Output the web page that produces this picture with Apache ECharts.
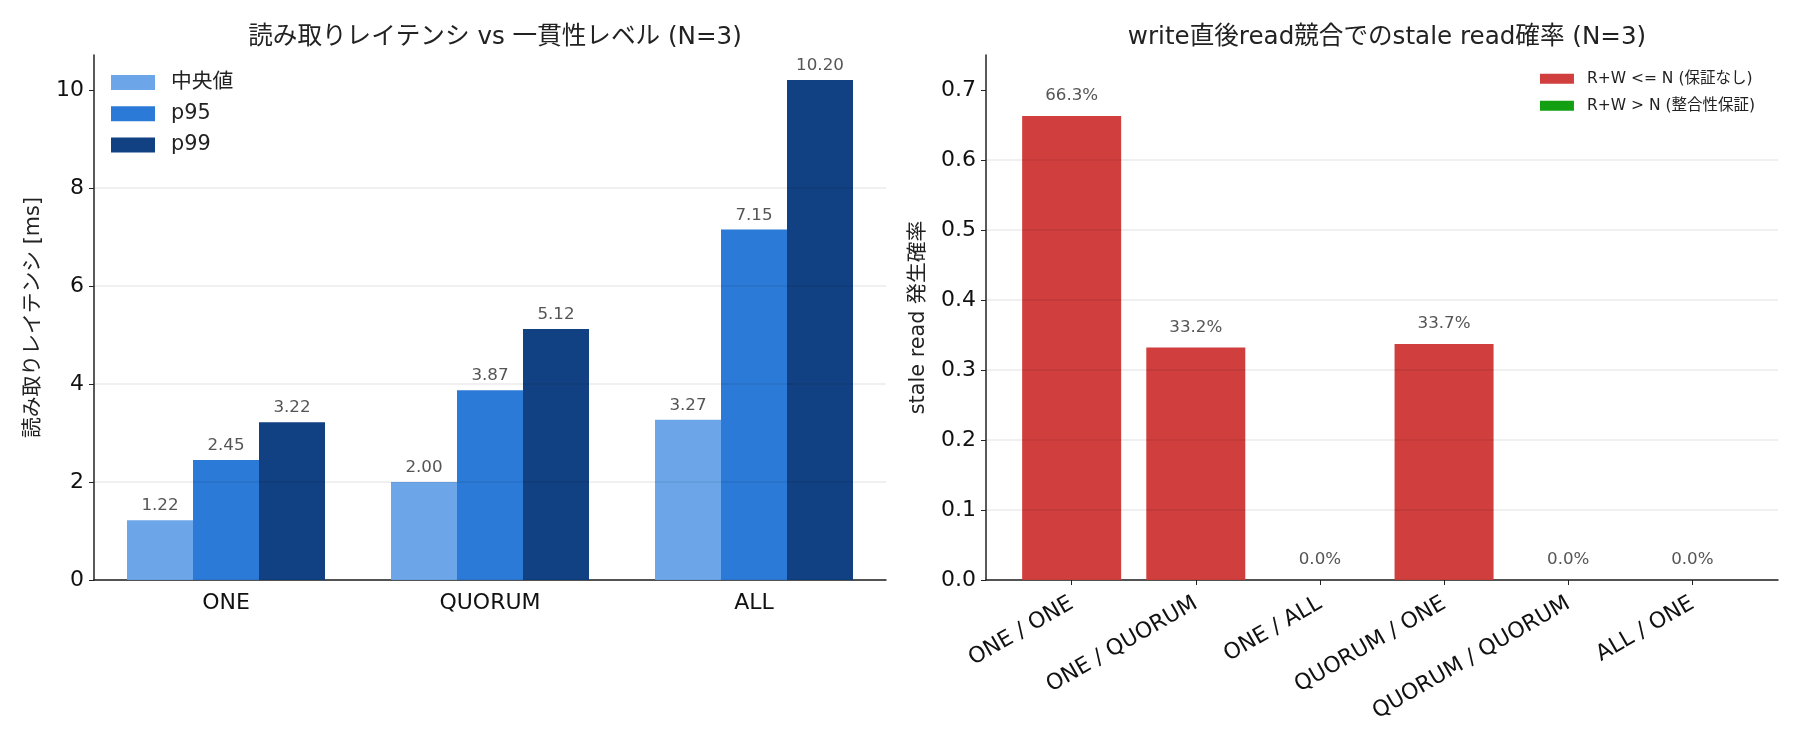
<!DOCTYPE html>
<html>
<head>
<meta charset="utf-8">
<script src="https://cdn.jsdelivr.net/npm/echarts@6/dist/echarts.min.js"></script>
<style>
  html, body { margin: 0; padding: 0; background: #fff; }
  #chart { width: 1800px; height: 750px; }
</style>
</head>
<body>
<div id="chart"></div>
<script>
// 左: 一貫性レベル別の読み取りレイテンシ
var levels = ['ONE', 'QUORUM', 'ALL'];
var median = [1.22, 2.00, 3.27];
var p95 = [2.45, 3.87, 7.15];
var p99 = [3.22, 5.12, 10.20];
var latencyTicks = [0, 2, 4, 6, 8, 10];

// 右: W / R の組み合わせごとの stale read 確率
var pairs = ['ONE / ONE', 'ONE / QUORUM', 'ONE / ALL', 'QUORUM / ONE', 'QUORUM / QUORUM', 'ALL / ONE'];
var staleRate = [0.663, 0.332, 0.0, 0.337, 0.0, 0.0];
var consistent = [false, false, true, false, true, true];   // R+W > N
var rateTicks = [0, 0.1, 0.2, 0.3, 0.4, 0.5, 0.6, 0.7];
var pairIdx = [0, 1, 2, 3, 4, 5];

var FONT = 'DejaVu Sans, Noto Sans CJK JP, sans-serif';
var AXIS = '#222';
var GRIDLINE = 'rgba(0,0,0,0.08)';
var TICK_FS = 22;

var chart = echarts.init(document.getElementById('chart'));

var redData = [], greenData = [];
pairIdx.forEach(function (i) {
    if (consistent[i]) greenData.push([i, staleRate[i]]);
    else redData.push([i, staleRate[i]]);
});

function barLabel(fmt, dist) {
    return {
        show: true, position: 'top', distance: dist,
        color: '#555', fontSize: 16.7, fontFamily: FONT,
        formatter: fmt
    };
}
var latLabel = barLabel(function (p) { return p.value.toFixed(2); }, 6);
var pctLabel = barLabel(function (p) { return (p.value[1] * 100).toFixed(1) + '%'; }, 12);

var option = {
    animation: false,
    textStyle: { fontFamily: FONT },
    title: [
        { text: '読み取りレイテンシ vs 一貫性レベル (N=3)', left: 490, top: 20, textAlign: 'center',
          textStyle: { fontSize: 24.6, fontWeight: 'normal', color: '#222', fontFamily: FONT } },
        { text: 'write直後read競合でのstale read確率 (N=3)', left: 1382, top: 20, textAlign: 'center',
          textStyle: { fontSize: 24.6, fontWeight: 'normal', color: '#222', fontFamily: FONT } }
    ],
    legend: [
        { orient: 'vertical', left: 111, top: 72, padding: 0, itemWidth: 44, itemHeight: 15, itemGap: 10.5,
          icon: 'rect', data: ['中央値', 'p95', 'p99'],
          textStyle: { fontSize: 20.8, color: '#222', padding: [0, 0, 0, 11] } },
        { orient: 'vertical', right: 45, top: 71, padding: 0, itemWidth: 34, itemHeight: 10, itemGap: 11.5,
          icon: 'rect', data: ['R+W <= N (保証なし)', 'R+W > N (整合性保証)'],
          textStyle: { fontSize: 15.5, color: '#222', padding: [0, 0, 0, 8] } }
    ],
    grid: [
        { left: 94, right: 914, top: 55, bottom: 170 },
        { left: 986, right: 22, top: 55, bottom: 170 }
    ],
    xAxis: [
        { type: 'category', gridIndex: 0, data: levels,
          axisLine: { lineStyle: { color: AXIS, width: 1.5 } },
          axisTick: { alignWithLabel: true, length: 5, lineStyle: { color: AXIS } },
          axisLabel: { fontSize: TICK_FS, color: '#111', margin: 12 } },
        { type: 'value', gridIndex: 1, min: -0.69, max: 5.69,
          splitLine: { show: false },
          axisLine: { show: true, onZero: false, lineStyle: { color: AXIS, width: 1.5 } },
          axisTick: { show: true, length: 5, customValues: pairIdx, lineStyle: { color: AXIS } },
          axisLabel: { fontSize: TICK_FS, color: '#111', rotate: 30, margin: 22, customValues: pairIdx,
                       formatter: function (v) { return pairs[v]; } } }
    ],
    yAxis: [
        { type: 'value', gridIndex: 0, min: 0, max: 10.71, interval: 2, z: 3,
          name: '読み取りレイテンシ [ms]', nameLocation: 'middle', nameGap: 50,
          nameTextStyle: { fontSize: 20.8, color: '#222' },
          axisLine: { show: true, onZero: false, lineStyle: { color: AXIS, width: 1.5 } },
          axisTick: { show: true, length: 5, customValues: latencyTicks, lineStyle: { color: AXIS } },
          axisLabel: { fontSize: TICK_FS, color: '#111', margin: 10, customValues: latencyTicks },
          splitLine: { show: true, showMaxLine: false, lineStyle: { color: GRIDLINE, width: 1.5 } } },
        { type: 'value', gridIndex: 1, min: 0, max: 0.75, interval: 0.1, z: 3,
          name: 'stale read 発生確率', nameLocation: 'middle', nameGap: 57,
          nameTextStyle: { fontSize: 20.8, color: '#222' },
          axisLine: { show: true, onZero: false, lineStyle: { color: AXIS, width: 1.5 } },
          axisTick: { show: true, length: 5, customValues: rateTicks, lineStyle: { color: AXIS } },
          axisLabel: { fontSize: TICK_FS, color: '#111', margin: 10, customValues: rateTicks,
                       formatter: function (v) { return v.toFixed(1); } },
          splitLine: { show: true, showMaxLine: false, lineStyle: { color: GRIDLINE, width: 1.5 } } }
    ],
    series: [
        { name: '中央値', type: 'bar', xAxisIndex: 0, yAxisIndex: 0, data: median,
          barGap: 0, barCategoryGap: '25%', itemStyle: { color: '#6ca6e9' }, label: latLabel },
        { name: 'p95', type: 'bar', xAxisIndex: 0, yAxisIndex: 0, data: p95,
          itemStyle: { color: '#2b7ad7' }, label: latLabel },
        { name: 'p99', type: 'bar', xAxisIndex: 0, yAxisIndex: 0, data: p99,
          itemStyle: { color: '#114182' }, label: latLabel },
        { name: 'R+W <= N (保証なし)', type: 'bar', xAxisIndex: 1, yAxisIndex: 1, data: redData,
          barWidth: 99, barGap: '-100%', itemStyle: { color: '#d03e3e' }, label: pctLabel },
        { name: 'R+W > N (整合性保証)', type: 'bar', xAxisIndex: 1, yAxisIndex: 1, data: greenData,
          barWidth: 99, itemStyle: { color: '#12a012' }, label: pctLabel }
    ]
};

chart.setOption(option);
</script>
</body>
</html>
